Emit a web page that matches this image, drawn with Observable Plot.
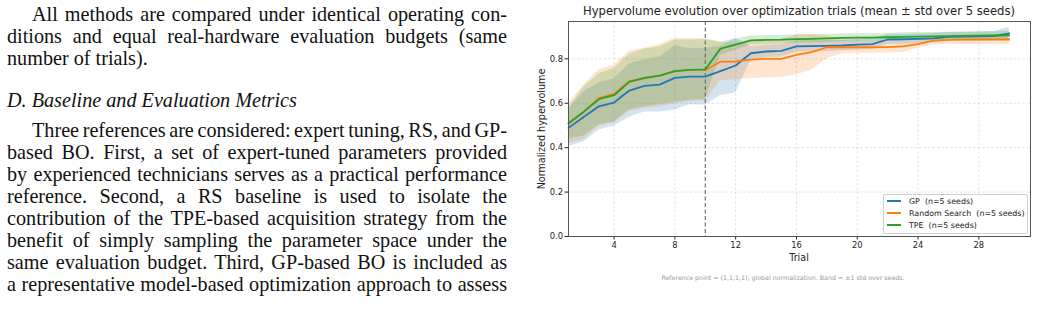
<!DOCTYPE html>
<html><head><meta charset="utf-8">
<script src="https://cdn.jsdelivr.net/npm/d3@7"></script>
<script src="https://cdn.jsdelivr.net/npm/@observablehq/plot@0.6"></script>
<style>
body{margin:0;width:1037px;height:311px;overflow:hidden;background:#fff;position:relative;}
#text{position:absolute;left:7px;top:3px;width:500px;font-family:"Liberation Serif","Times New Roman",serif;font-size:20.2px;line-height:22px;color:#111;}
#text div{white-space:nowrap;}
#text .ind{padding-left:25px;}
#text .h{font-style:italic;margin-top:20px;margin-bottom:8px;}
#chart{position:absolute;left:530px;top:0;}
.lbl{position:absolute;font-family:"DejaVu Sans",sans-serif;color:#222;white-space:nowrap;}
#legend{position:absolute;left:883px;top:194px;width:143px;height:38px;border:1px solid #d0d0d0;border-radius:2px;background:rgba(255,255,255,0.85);font-family:"DejaVu Sans",sans-serif;font-size:7.9px;color:#222;}
#legend .e{position:absolute;left:3px;height:12px;line-height:12px;white-space:nowrap;}
#legend .e span.sw{display:inline-block;width:14px;height:2px;vertical-align:middle;margin-right:8px;position:relative;top:-1px;}
</style></head>
<body>
<div id="text">
<div class="j ind">All methods are compared under identical operating con-</div>
<div class="j">ditions and equal real-hardware evaluation budgets (same</div>
<div>number of trials).</div>
<div class="h">D. Baseline and Evaluation Metrics</div>
<div class="j ind">Three references are considered: expert tuning, RS, and GP-</div>
<div class="j">based BO. First, a set of expert-tuned parameters provided</div>
<div class="j">by experienced technicians serves as a practical performance</div>
<div class="j">reference. Second, a RS baseline is used to isolate the</div>
<div class="j">contribution of the TPE-based acquisition strategy from the</div>
<div class="j">benefit of simply sampling the parameter space under the</div>
<div class="j">same evaluation budget. Third, GP-based BO is included as</div>
<div class="j">a representative model-based optimization approach to assess</div>
</div>
<div id="chart"></div>
<div class="lbl" id="title" style="left:799px;top:4px;transform:translateX(-50%);font-size:11.6px;">Hypervolume evolution over optimization trials (mean ± std over 5 seeds)</div>
<div class="lbl" id="ylab" style="left:541px;top:129px;transform:translate(-50%,-50%) rotate(-90deg);font-size:9.6px;">Normalized hypervolume</div>
<div class="lbl" id="xlab" style="left:799px;top:252px;transform:translateX(-50%);font-size:9.6px;">Trial</div>
<div class="lbl" id="cap" style="left:783px;top:274px;transform:translateX(-50%);font-size:6.3px;color:#999;">Reference point = (1,1,1,1); global normalization. Band = ±1 std over seeds.</div>
<div id="legend"></div>
<script>
const trials = [1,2,3,4,5,6,7,8,9,10,11,12,13,14,15,16,17,18,19,20,21,22,23,24,25,26,27,28,29,30];
const seriesNames = ["GP  (n=5 seeds)", "Random Search  (n=5 seeds)", "TPE  (n=5 seeds)"];
const seriesColors = ["#1f77b4", "#ff7f0e", "#2ca02c"];
const gpMean = [0.489,0.538,0.586,0.603,0.657,0.678,0.684,0.714,0.720,0.720,0.745,0.770,0.825,0.833,0.836,0.856,0.857,0.858,0.860,0.864,0.866,0.887,0.888,0.890,0.892,0.899,0.900,0.901,0.902,0.915];
const gpStd = [0.084,0.113,0.106,0.106,0.120,0.118,0.124,0.144,0.127,0.128,0.110,0.123,0.030,0.028,0.028,0.025,0.025,0.025,0.024,0.024,0.024,0.022,0.022,0.022,0.022,0.020,0.020,0.020,0.020,0.027];
const rsMean = [0.507,0.560,0.623,0.642,0.699,0.712,0.724,0.745,0.750,0.750,0.787,0.788,0.796,0.800,0.800,0.818,0.830,0.852,0.852,0.852,0.852,0.853,0.856,0.866,0.882,0.885,0.886,0.887,0.887,0.887];
const rsStd = [0.090,0.122,0.128,0.130,0.135,0.136,0.140,0.148,0.142,0.140,0.087,0.083,0.084,0.086,0.084,0.090,0.080,0.052,0.030,0.027,0.026,0.027,0.028,0.018,0.020,0.021,0.022,0.022,0.022,0.022];
const tpeMean = [0.510,0.562,0.618,0.636,0.696,0.714,0.724,0.745,0.750,0.752,0.846,0.864,0.883,0.885,0.886,0.889,0.890,0.892,0.894,0.895,0.895,0.897,0.899,0.900,0.901,0.902,0.903,0.904,0.905,0.906];
const tpeStd = [0.070,0.110,0.115,0.120,0.125,0.130,0.130,0.140,0.135,0.135,0.030,0.025,0.020,0.020,0.019,0.018,0.018,0.018,0.018,0.018,0.018,0.018,0.018,0.018,0.018,0.018,0.018,0.018,0.018,0.018];
const xTicks = [4,8,12,16,20,24,28];
const yTicks = [0,0.2,0.4,0.6,0.8];
const markerTrial = [10];

// justify each text line exactly to the column width
document.querySelectorAll("#text .j").forEach(el => {
  const target = 500 - (el.classList.contains("ind") ? 25 : 0);
  const span = document.createElement("span");
  span.textContent = el.textContent;
  el.textContent = "";
  el.appendChild(span);
  const w = span.getBoundingClientRect().width;
  const n = (span.textContent.match(/ /g) || []).length;
  if (n) span.style.wordSpacing = ((target - w) / n) + "px";
});

const means = [gpMean, rsMean, tpeMean];
const stds = [gpStd, rsStd, tpeStd];
const data = [];
seriesNames.forEach((s, i) => trials.forEach((t, j) => data.push({
  series: s, trial: t, mean: means[i][j], lo: means[i][j] - stds[i][j], hi: means[i][j] + stds[i][j]
})));

const chart = Plot.plot({
  width: 507, height: 270,
  marginLeft: 38, marginRight: 7, marginTop: 21, marginBottom: 34,
  style: {fontFamily: "DejaVu Sans", fontSize: "8.4px", color: "#222", background: "transparent"},
  x: {domain: [1, 31.4], ticks: xTicks, tickSize: 3.5, tickPadding: 2, label: null},
  y: {domain: [0, 0.968], ticks: yTicks, tickFormat: ".1f", tickSize: 3.5, tickPadding: 2, label: null},
  color: {domain: seriesNames, range: seriesColors},
  marks: [
    Plot.ruleX(xTicks, {stroke: "#b0b0b0", strokeOpacity: 0.5, strokeDasharray: "2.5,2", strokeWidth: 0.7}),
    Plot.ruleY(yTicks, {stroke: "#b0b0b0", strokeOpacity: 0.5, strokeDasharray: "2.5,2", strokeWidth: 0.7}),
    Plot.areaY(data, {x: "trial", y1: "lo", y2: "hi", fill: "series", fillOpacity: 0.2}),
    Plot.ruleX(markerTrial, {stroke: "#666", strokeDasharray: "4,2.5", strokeWidth: 1.1}),
    Plot.lineY(data, {x: "trial", y: "mean", stroke: "series", strokeWidth: 1.8}),
    Plot.frame({stroke: "#555", strokeWidth: 1})
  ]
});
document.getElementById("chart").appendChild(chart);

const leg = document.getElementById("legend");
seriesNames.forEach((s, i) => {
  const e = document.createElement("div");
  e.className = "e";
  e.style.top = (1 + i * 12) + "px";
  e.innerHTML = `<span class="sw" style="background:${seriesColors[i]}"></span>${s.replace(/  /g, "&nbsp; ")}`;
  leg.appendChild(e);
});
</script>
</body></html>
